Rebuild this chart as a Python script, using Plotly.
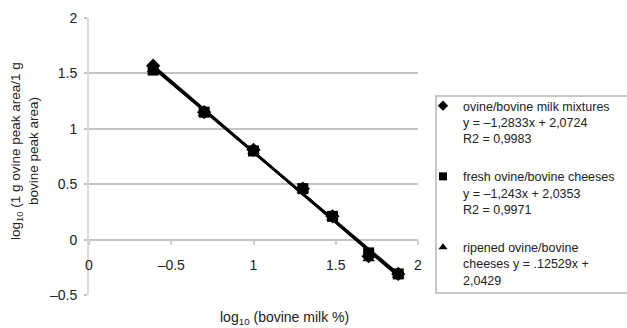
import plotly.graph_objects as go

# data
x_vals = [0.39, 0.70, 1.00, 1.30, 1.48, 1.70, 1.88]
y_mixtures = [1.57, 1.15, 0.81, 0.46, 0.21, -0.15, -0.31]
y_fresh = [1.53, 1.15, 0.80, 0.46, 0.21, -0.12, -0.31]
y_ripened = [1.54, 1.14, 0.80, 0.45, 0.20, -0.17, -0.32]

trend_x = [0.39, 1.88]
trend_mixtures = [1.57, -0.33]
trend_fresh = [1.55, -0.31]
trend_ripened = [1.56, -0.32]

x_tickvals = [0, 0.5, 1, 1.5, 2]
x_ticktext = ["0", "\u20130.5", "1", "1.5", "2"]
y_tickvals = [-0.5, 0, 0.5, 1, 1.5, 2]
y_ticktext = ["\u20130.5", "0", "0.5", "1", "1.5", "2"]

names = [
    "ovine/bovine milk mixtures<br>y = \u20131,2833x + 2,0724<br>R2 = 0,9983",
    "fresh ovine/bovine cheeses<br>y = \u20131,243x + 2,0353<br>R2 = 0,9971",
    "ripened ovine/bovine<br>cheeses y = .12529x +<br>2,0429",
]
symbols = ["diamond", "square", "triangle-up"]

# plot-area geometry in pixels
W, H = 627, 328
L, R, T, B = 89, 418, 18, 295
pw, ph = R - L, B - T


def px_x(x):
    return (x - L) / pw


def px_y(y):
    return (B - y) / ph


fig = go.Figure()
for ty in [trend_mixtures, trend_fresh, trend_ripened]:
    fig.add_trace(go.Scatter(x=trend_x, y=ty, mode="lines",
                             line=dict(color="black", width=2.5),
                             showlegend=False, hoverinfo="skip"))

for yv, sym in [(y_ripened, "triangle-up"), (y_fresh, "square"), (y_mixtures, "diamond")]:
    fig.add_trace(go.Scatter(x=x_vals, y=yv, mode="markers", showlegend=False,
                             marker=dict(symbol=sym, size=11, color="black")))

# legend entries (small symbols as in the reference)
for i, (nm, sym) in enumerate(zip(names, symbols)):
    fig.add_trace(go.Scatter(x=[None], y=[None], mode="markers", name=nm,
                             legendgroup=f"g{i}", legendrank=i + 1,
                             marker=dict(symbol=sym, size=8, color="black")))

fig.update_layout(
    width=W, height=H,
    margin=dict(l=L, r=W - R, t=T, b=H - B, autoexpand=False),
    paper_bgcolor="white", plot_bgcolor="white",
    font=dict(family="Liberation Sans, Arial, sans-serif", size=14, color="#222"),
    showlegend=True,
    legend=dict(x=px_x(423), y=px_y(91), xanchor="left", yanchor="top",
                borderwidth=0, bgcolor="rgba(0,0,0,0)",
                font=dict(size=12.5, color="#222"), valign="top",
                itemwidth=30, traceorder="grouped", tracegroupgap=19),
    xaxis=dict(range=[0, 2], tickvals=x_tickvals, ticktext=x_ticktext,
               showgrid=False, zeroline=False, showline=False,
               anchor="free", position=px_y(240),
               ticks="outside", ticklen=4, tickwidth=2, tickcolor="#d0d0d0",
               ticklabelstandoff=8, tickfont=dict(size=14)),
    yaxis=dict(range=[-0.5, 2], tickvals=y_tickvals, ticktext=y_ticktext,
               showgrid=True, gridcolor="#c4c4c4", gridwidth=2,
               zeroline=False, showline=True, linecolor="#dcdcdc", linewidth=2,
               ticks="outside", ticklen=3, tickwidth=2, tickcolor="#c4c4c4",
               ticklabelstandoff=4, tickfont=dict(size=14)),
    shapes=[dict(type="rect", xref="paper", yref="paper",
                 x0=px_x(436), x1=px_x(640), y0=px_y(293), y1=px_y(96),
                 line=dict(color="#b5b5b5", width=1.5), fillcolor="rgba(0,0,0,0)",
                 layer="below")],
    annotations=[
        dict(text="log<sub>10</sub> (bovine milk %)", x=px_x(284), y=px_y(318),
             xref="paper", yref="paper", showarrow=False,
             xanchor="center", yanchor="middle", font=dict(size=14)),
        dict(text="log<sub>10</sub> (1 g ovine peak area/1 g<br>bovine peak area)",
             x=px_x(24), y=px_y(151), xref="paper", yref="paper", showarrow=False,
             textangle=-90, xanchor="center", yanchor="middle", font=dict(size=13.5)),
    ],
)

fig.write_html("out.html", config={"displayModeBar": False},
               post_script="document.body.style.margin='0';document.body.style.overflow='hidden';")
